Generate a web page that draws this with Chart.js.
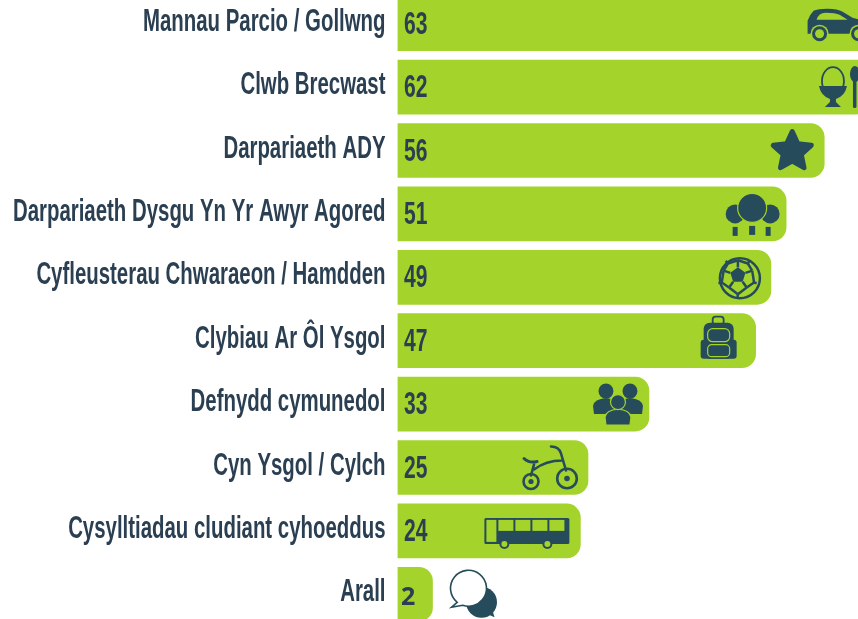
<!DOCTYPE html>
<html><head><meta charset="utf-8">
<style>
html,body{margin:0;padding:0;background:#fff;overflow:hidden;width:858px;height:619px}
#wrap{position:absolute;left:0;top:-8px;width:858px;height:634px}
</style>
<script src="https://cdn.jsdelivr.net/npm/chart.js@4"></script>
</head><body><div id="wrap"><canvas id="c"></canvas></div>
<script>
const categories = ["Mannau Parcio / Gollwng","Clwb Brecwast","Darpariaeth ADY","Darpariaeth Dysgu Yn Yr Awyr Agored","Cyfleusterau Chwaraeon / Hamdden","Clybiau Ar Ôl Ysgol","Defnydd cymunedol","Cyn Ysgol / Cylch","Cysylltiadau cludiant cyhoeddus","Arall"];
const values = [63,62,56,51,49,47,33,25,24,2];
const GREEN='#a4d32c', TEXT='#2b3f52', ICON='#264c5b';
const FONT='"Liberation Sans"';
const SQUEEZE=0.658;

function rr(c,x,y,w,h,r){c.beginPath();c.roundRect(x,y,w,h,r);}
function circle(c,x,y,r){c.beginPath();c.arc(x,y,r,0,Math.PI*2);}
const icons=[
 {dx:-38,dy:0,draw(c){
  c.fillStyle=ICON;c.beginPath();c.moveTo(-32,4);c.lineTo(-32,-3);c.quadraticCurveTo(-30,-9,-26,-13);c.quadraticCurveTo(-22,-15,-12,-15);c.quadraticCurveTo(-2,-15,3,-12);c.lineTo(13,-6);c.lineTo(24,-3);c.lineTo(24,10);c.lineTo(-32,10);c.closePath();c.fill();
  c.fillStyle=GREEN;c.beginPath();c.moveTo(-23,-4);c.quadraticCurveTo(-21,-11,-14,-11);c.quadraticCurveTo(-4,-11,0,-9);c.lineTo(8,-4);c.closePath();c.fill();
  [-20,19].forEach(x=>{c.fillStyle=GREEN;circle(c,x,10,9);c.fill();c.fillStyle=ICON;circle(c,x,10,7.5);c.fill();c.fillStyle=GREEN;circle(c,x,10,4.5);c.fill();});
 }},
 {dx:-37,dy:0,draw(c){
  c.strokeStyle=ICON;c.lineWidth=1.8;c.beginPath();c.ellipse(0,-6,11,14,0,0,Math.PI*2);c.stroke();
  c.fillStyle=ICON;c.beginPath();c.moveTo(-14,-1);c.lineTo(14,-1);c.quadraticCurveTo(12,9,3,12);c.lineTo(3,15);c.lineTo(8,20);c.lineTo(-8,20);c.lineTo(-3,15);c.lineTo(-3,12);c.quadraticCurveTo(-12,9,-14,-1);c.closePath();c.fill();
  c.beginPath();c.ellipse(22,-13,5,8,0,0,Math.PI*2);c.fill();
  rr(c,20,-8,3.5,29,1.5);c.fill();
 }},
 {dx:-32,dy:0,draw(c){
  c.fillStyle=ICON;c.strokeStyle=ICON;c.lineWidth=5;c.lineJoin='round';c.beginPath();
  for(let i=0;i<10;i++){const r=i%2?9.5:20,a=-Math.PI/2+i*Math.PI/5;c[i?'lineTo':'moveTo'](r*Math.cos(a),r*Math.sin(a)+1);}
  c.closePath();c.fill();c.stroke();
 }},
 {dx:-34,dy:0,draw(c){
  c.fillStyle=ICON;c.strokeStyle=GREEN;c.lineWidth=1.2;
  [[-17,0,9.5],[18,0,9.5]].forEach(t=>{circle(c,t[0],t[1],t[2]);c.fill();});
  circle(c,0,-6,14.5);c.fill();c.stroke();
  [[-17,13,5],[0,12,6],[16,13,5]].forEach(t=>{c.fillRect(t[0]-t[2]/2,t[1],t[2],9);});
 }},
 {dx:-31,dy:1,draw(c){
  c.strokeStyle=ICON;c.fillStyle=ICON;c.lineWidth=2.5;circle(c,0,0,20);c.stroke();
  const pent=(r,rot,cx,cy)=>{c.beginPath();for(let i=0;i<5;i++){const a=rot+i*2*Math.PI/5;c[i?'lineTo':'moveTo'](cx+r*Math.cos(a),cy+r*Math.sin(a));}c.closePath();};
  pent(8,-Math.PI/2,-2,-3);c.fill();
  for(let i=0;i<5;i++){const a=-Math.PI/2+i*2*Math.PI/5;const x1=-2+8*Math.cos(a),y1=-3+8*Math.sin(a),x2=-2+15*Math.cos(a),y2=-3+15*Math.sin(a);
   c.beginPath();c.moveTo(x1,y1);c.lineTo(x2,y2);c.stroke();
   const b=a+Math.PI/5,x3=-2+17*Math.cos(b),y3=-1+17*Math.sin(b);
   c.beginPath();c.moveTo(x2,y2);c.lineTo(x3,y3);c.stroke();
   const d=a+2*Math.PI/5,x4=-2+15*Math.cos(d),y4=-3+15*Math.sin(d);c.beginPath();c.moveTo(x3,y3);c.lineTo(x4,y4);c.stroke();
   c.beginPath();c.moveTo(x3,y3);c.lineTo(x3*1.18,y3*1.18);c.stroke();}
 }},
 {dx:-37,dy:-3,draw(c){
  c.fillStyle=ICON;c.strokeStyle=ICON;c.lineWidth=1.8;rr(c,-6,-21,11,8,3);c.stroke();
  rr(c,-15,-15,30,36,6);c.fill();
  rr(c,-18,2,36,19,3);c.fill();
  c.strokeStyle=GREEN;c.lineWidth=1.2;rr(c,-11,-9,22,13,5);c.stroke();rr(c,-11,7,22,12,4);c.stroke();
 }},
 {dx:-31,dy:0,draw(c){
  const person=(x,y,stroke)=>{c.fillStyle=ICON;c.strokeStyle=GREEN;c.lineWidth=1.2;
   c.beginPath();c.moveTo(x-12,y+23);c.lineTo(x-13,y+15);c.quadraticCurveTo(x-12,y+8,x,y+7);c.quadraticCurveTo(x+12,y+8,x+13,y+15);c.lineTo(x+12,y+23);c.closePath();c.fill();if(stroke)c.stroke();
   circle(c,x,y,7.5);c.fill();if(stroke)c.stroke();};
  person(-12,-13);person(12,-13);person(0,-2,true);
 }},
 {dx:-39,dy:0,draw(c){
  c.strokeStyle=ICON;c.lineWidth=2.6;c.lineCap='round';
  circle(c,-18,14,7.5);c.stroke();circle(c,18,11,9.8);c.stroke();
  c.fillStyle=ICON;circle(c,-18,14,2.6);c.fill();circle(c,18,11,2.8);c.fill();
  c.beginPath();c.moveTo(-18,8);c.lineTo(-15,-3);c.moveTo(-15,2);c.quadraticCurveTo(-3,-7,13,-7);c.moveTo(17,3);c.lineTo(12,-14);c.quadraticCurveTo(10,-21,2,-21);c.stroke();
  c.lineWidth=3;c.beginPath();c.moveTo(-25,-9);c.quadraticCurveTo(-20,-4,-12,-6);c.stroke();
 }},
 {dx:-53,dy:0,draw(c){
  c.fillStyle=ICON;rr(c,-43,-13,85,26,1.5);c.fill();
  c.fillStyle=GREEN;[-29,-12,5,22].forEach(x=>c.fillRect(x,-11,15,11));
  c.fillRect(-41,-11,10,22);
  c.fillStyle=ICON;circle(c,-23,13,5);c.fill();circle(c,20,13,5);c.fill();
  c.fillStyle=GREEN;circle(c,-23,13,3);c.fill();circle(c,20,13,3);c.fill();
 }},
 {dx:38,dy:-5,draw(c){
  c.fillStyle=ICON;circle(c,11,13,15.5);c.fill();
  c.beginPath();c.moveTo(15,24);c.lineTo(24,28);c.lineTo(21,18);c.fill();
  c.fillStyle='#fff';c.strokeStyle=ICON;c.lineWidth=1.6;c.beginPath();c.arc(-2,-1,18,2.25,2.0+Math.PI*2-0.1);c.lineTo(-19,18);c.closePath();c.fill();c.stroke();
 }}
];

const decorate={
 id:'decorate',
 afterLayout(chart){
  const y=chart.scales.y;
  if(y._squeezed)return;y._squeezed=true;
  const base=y.drawLabels;
  y._computeLabelArea=function(){return undefined;};
  y.drawLabels=function(area){const c=this.ctx,e=this.right-12;c.save();c.translate(e,-1.5);c.scale(SQUEEZE,1);c.translate(-e,0);base.call(this,area);c.restore();};
 },
 afterDatasetsDraw(chart){
  const c=chart.ctx,bars=chart.getDatasetMeta(0).data;
  bars.forEach((b,i)=>{
   const ic=icons[i];
   c.save();c.translate(b.x+ic.dx,b.y+ic.dy);ic.draw(c);c.restore();
   const v=String(values[i]),last=values[i]<10;
   c.save();c.fillStyle=TEXT;c.textBaseline='middle';c.textAlign='left';
   const x0=b.base+6.5;
   c.translate(x0,b.y+1.5);
   if(last){c.font='bold 25px "Open Sans"';c.translate(-3,2.5);}
   else{c.font='bold 31px '+FONT;c.scale(0.68,1);}
   c.fillText(v,0,0);c.restore();
  });
 }
};
new Chart(document.getElementById('c'),{
 type:'bar',
 plugins:[decorate],
 data:{labels:categories,datasets:[{data:values,backgroundColor:GREEN,barThickness:54,minBarLength:35,
   borderRadius:{topRight:14,bottomRight:14,topLeft:0,bottomLeft:0},borderSkipped:false,borderWidth:0}]},
 options:{
  indexAxis:'y',responsive:true,maintainAspectRatio:false,animation:false,
  layout:{padding:0},
  plugins:{legend:{display:false},tooltip:{enabled:false}},
  scales:{
   x:{display:false,min:0,max:60.43},
   y:{afterFit(s){s.width=397.5;s.paddingTop=0;s.paddingBottom=0;},grid:{display:false,drawTicks:false},border:{display:false},
      ticks:{padding:12,color:TEXT,font:{family:FONT,size:31,weight:'bold'},autoSkip:false}}
  }
 }
});
</script></body></html>
